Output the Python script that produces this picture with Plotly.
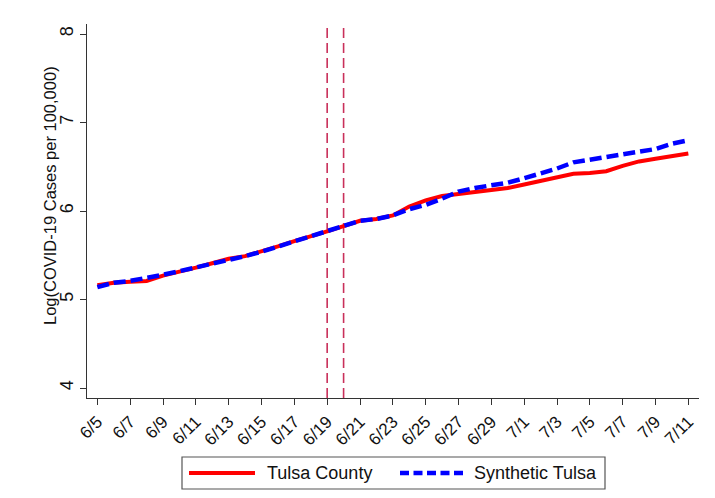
import plotly.graph_objects as go

# Daily dates on the horizontal axis
dates = [
    "6/5", "6/6", "6/7", "6/8", "6/9", "6/10", "6/11", "6/12", "6/13", "6/14",
    "6/15", "6/16", "6/17", "6/18", "6/19", "6/20", "6/21", "6/22", "6/23", "6/24",
    "6/25", "6/26", "6/27", "6/28", "6/29", "6/30", "7/1", "7/2", "7/3", "7/4",
    "7/5", "7/6", "7/7", "7/8", "7/9", "7/10", "7/11",
]

# Log(COVID-19 cases per 100,000)
tulsa_county = [
    5.16, 5.19, 5.20, 5.21, 5.27, 5.31, 5.36, 5.41, 5.46, 5.49,
    5.54, 5.60, 5.66, 5.71, 5.77, 5.83, 5.89, 5.91, 5.95, 6.05,
    6.12, 6.17, 6.19, 6.21, 6.23, 6.26, 6.30, 6.34, 6.38, 6.42,
    6.43, 6.45, 6.51, 6.56, 6.59, 6.62, 6.65,
]
synthetic_tulsa = [
    5.14, 5.19, 5.21, 5.24, 5.28, 5.32, 5.36, 5.41, 5.45, 5.49,
    5.54, 5.60, 5.66, 5.71, 5.77, 5.84, 5.89, 5.91, 5.95, 6.02,
    6.07, 6.14, 6.22, 6.26, 6.29, 6.32, 6.37, 6.42, 6.48, 6.55,
    6.58, 6.61, 6.64, 6.67, 6.70, 6.76, 6.80,
]

tick_labels = dates[::2]
event_dates = ["6/19", "6/20"]
y_ticks = [4, 5, 6, 7, 8]

FONT = "Arial, Liberation Sans, sans-serif"
W, H = 715, 498
ML, MR, MT, MB = 87, 16, 24, 100
PW, PH = W - ML - MR, H - MT - MB


def px(x):
    """Pixel column -> paper x."""
    return (x - ML) / PW


def py(y):
    """Pixel row -> paper y."""
    return (H - MB - y) / PH


fig = go.Figure()
fig.add_trace(go.Scatter(
    x=dates, y=tulsa_county, mode="lines", name="Tulsa County",
    line=dict(color="#FF0000", width=4), showlegend=False,
))
fig.add_trace(go.Scatter(
    x=dates, y=synthetic_tulsa, mode="lines", name="Synthetic Tulsa",
    line=dict(color="#0000FF", width=4.5, dash="12px,5px"), showlegend=False,
))

shapes = []
for d in event_dates:
    i = dates.index(d)
    shapes.append(dict(
        type="line", xref="x", yref="paper", x0=i, x1=i, y0=0, y1=1,
        line=dict(color="#C9305A", width=1.6, dash="10px,5px"), layer="below",
    ))

# Legend box drawn below the plot
shapes.append(dict(
    type="rect", xref="paper", yref="paper",
    x0=px(182), x1=px(605), y0=py(489), y1=py(457),
    line=dict(color="#555555", width=1.2), fillcolor="white",
))
shapes.append(dict(
    type="line", xref="paper", yref="paper",
    x0=px(189), x1=px(255), y0=py(473), y1=py(473),
    line=dict(color="#FF0000", width=4),
))
shapes.append(dict(
    type="line", xref="paper", yref="paper",
    x0=px(400), x1=px(463), y0=py(473), y1=py(473),
    line=dict(color="#0000FF", width=4.5, dash="9px,4.5px"),
))

annotations = [
    dict(text="Tulsa County", xref="paper", yref="paper", x=px(265), y=py(473),
         xanchor="left", yanchor="middle", showarrow=False,
         font=dict(family=FONT, size=18, color="#111111")),
    dict(text="Synthetic Tulsa", xref="paper", yref="paper", x=px(472), y=py(473),
         xanchor="left", yanchor="middle", showarrow=False,
         font=dict(family=FONT, size=18, color="#111111")),
    dict(text="Log(COVID-19 Cases per 100,000)", xref="paper", yref="paper",
         x=px(50), y=py(196), xanchor="center", yanchor="middle", textangle=-90,
         showarrow=False, font=dict(family=FONT, size=16.5, color="#111111")),
]

fig.update_layout(
    width=W, height=H,
    margin=dict(l=ML, r=MR, t=MT, b=MB),
    paper_bgcolor="white", plot_bgcolor="white",
    font=dict(family=FONT, size=16, color="#111111"),
    shapes=shapes, annotations=annotations, showlegend=False,
)
fig.update_xaxes(
    type="category", range=[-0.63, 36.65],
    tickmode="array", tickvals=tick_labels, ticktext=tick_labels,
    tickangle=-45, ticks="outside", ticklen=6, tickwidth=1.3, tickcolor="#333333",
    showline=True, linecolor="#333333", linewidth=1.3,
    showgrid=False, zeroline=False, automargin=False,
    tickfont=dict(family=FONT, size=17, color="#111111"),
)
fig.update_yaxes(
    range=[3.887, 8.113], tickmode="array", tickvals=y_ticks,
    tickangle=-90, ticks="outside", ticklen=6, tickwidth=1.3, tickcolor="#333333",
    showline=True, linecolor="#333333", linewidth=1.3,
    showgrid=False, zeroline=False, automargin=False,
    tickfont=dict(family=FONT, size=18, color="#111111"),
)

fig.write_html("out.html")
